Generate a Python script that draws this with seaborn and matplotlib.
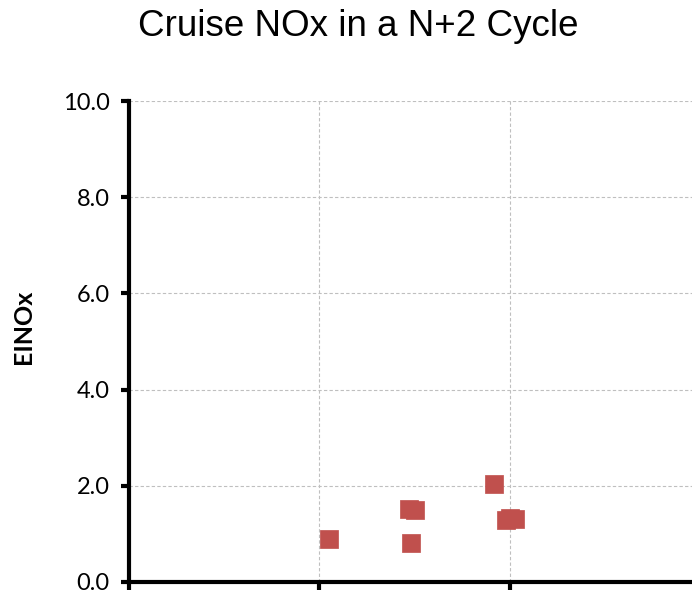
import matplotlib
matplotlib.use("Agg")
import matplotlib.pyplot as plt
import pandas as pd
import seaborn as sns

# cruise EINOx points (x in tick-spacing units, no labels shown on the x axis)
x_vals = [1.05, 1.47, 1.50, 1.48, 1.92, 1.98, 2.00, 2.03]
einox = [0.89, 1.52, 1.49, 0.82, 2.04, 1.29, 1.33, 1.32]
y_ticks = [0.0, 2.0, 4.0, 6.0, 8.0, 10.0]
x_ticks = [0, 1, 2, 3]

df = pd.DataFrame({"x": x_vals, "EINOx": einox})

sns.set_style("white")
plt.rcParams["font.family"] = ["Lato", "DejaVu Sans"]

fig = plt.figure(figsize=(6.92, 5.93), dpi=100)
W, H = 692, 593
# axes: left at 129 px, y=0 at 582 px, y=10 at 101 px, x=3 beyond right edge
ax = fig.add_axes([129 / W, (H - 582) / H, (700 - 129) / W, (582 - 101) / H])

sns.scatterplot(data=df, x="x", y="EINOx", ax=ax, marker="s", s=155,
                color="#c0504d", edgecolor="#c0504d", linewidth=0.5, zorder=3)

ax.set_xlim(0, 3)
ax.set_ylim(0, 10)
ax.set_xticks(x_ticks)
ax.set_xticklabels([])
ax.set_yticks(y_ticks)
ax.set_yticklabels([f"{t:.1f}" for t in y_ticks], fontsize=17, color="black")
ax.grid(True, color="#bfbfbf", linestyle=(0, (3, 2)), linewidth=0.8)
ax.set_axisbelow(True)

for side in ["top", "right"]:
    ax.spines[side].set_visible(False)
for side in ["left", "bottom"]:
    ax.spines[side].set_linewidth(3)
    ax.spines[side].set_color("black")
ax.tick_params(axis="both", direction="out", length=6, width=3, color="black",
               bottom=True, left=True)
ax.tick_params(axis="y", pad=8)

ax.set_xlabel("")
ax.set_ylabel("EINOx", fontsize=18, fontweight="bold", color="black")
ax.yaxis.set_label_coords((35 - 129) / 571, (582 - 327) / 481)

fig.text(358 / W, 1 - 26 / H, "Cruise NOx in a N+2 Cycle", ha="center", va="center",
         fontsize=26.5, color="black", family=["Liberation Sans", "DejaVu Sans"])

fig.savefig("out.png", dpi=100)
